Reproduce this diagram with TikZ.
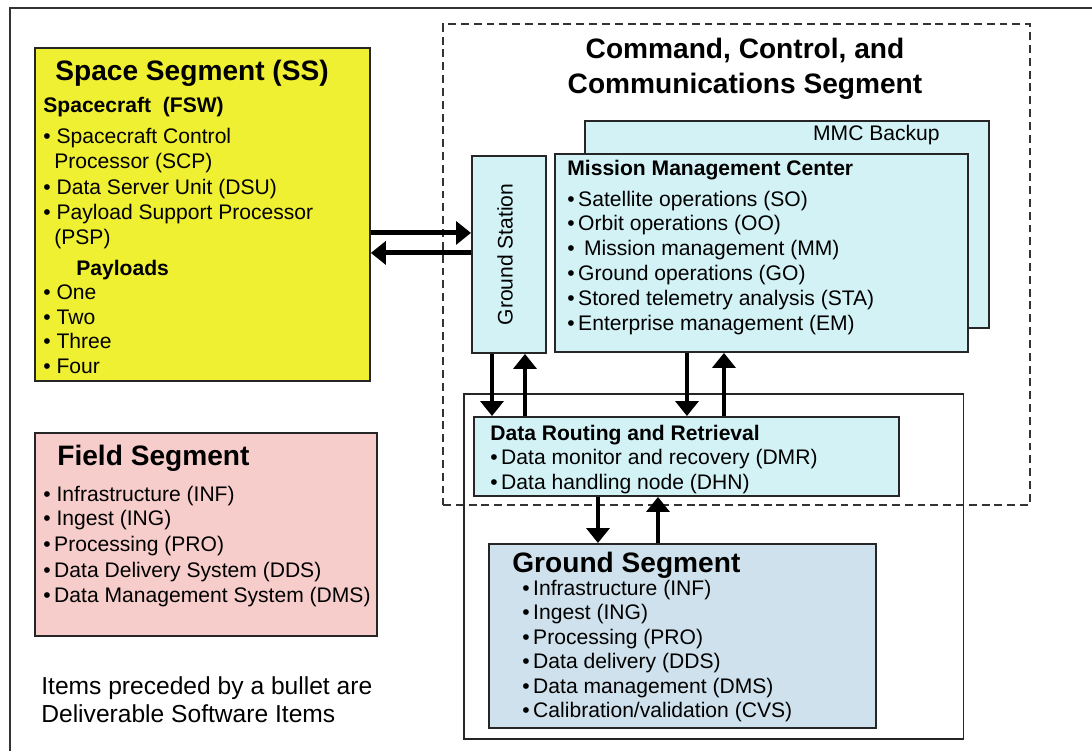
\documentclass[tikz,border=0pt]{standalone}
\usepackage{fontspec}
\setmainfont{Liberation Sans}
\usetikzlibrary{arrows.meta}
\definecolor{ssyellow}{HTML}{F0F032}
\definecolor{fspink}{HTML}{F6CDCB}
\definecolor{ccccyan}{HTML}{D3F2F6}
\definecolor{gsblue}{HTML}{CFE1EC}
\definecolor{framegray}{HTML}{333333}

\begin{document}
\begin{tikzpicture}[x=0.02cm, y=-0.02cm,
    box/.style={draw=black!85, line width=1.1pt, anchor=north west, inner sep=0},
    txt/.style={anchor=base west, inner sep=0, font=\fontsize{12}{14}\selectfont},
    hdr/.style={txt, font=\fontsize{12}{14}\selectfont\bfseries},
    ttl/.style={txt, font=\fontsize{16}{19}\selectfont\bfseries},
    arr/.style={line width=2.8pt, -{Triangle[length=8.5pt, width=13pt]}}]
\useasboundingbox (0,0) rectangle (1092,751);
\draw[framegray, line width=1.2pt] (10,751) -- (10,8) -- (1092,8);

\node[box, draw=black!80, dash pattern=on 4.5pt off 2.8pt, minimum width=11.74cm, minimum height=9.62cm] (ccc) at (442,23) {};
\node[ttl, anchor=base] (ccct1) at (745,58) {Command, Control, and};
\node[ttl, anchor=base] (ccct2) at (745,93) {Communications Segment};

\node[box, fill=ssyellow, minimum width=6.7cm, minimum height=6.66cm] (ss) at (34,47) {};
\node[ttl] (sst) at (55,80) {Space Segment (SS)};
\node[hdr] (fsw) at (43,112.5) {Spacecraft\ \ (FSW)};
\node[txt] (scp1) at (43,143.5) {• Spacecraft Control};
\node[txt] (scp2) at (54,168.5) {Processor (SCP)};
\node[txt] (dsu) at (43,194.5) {• Data Server Unit (DSU)};
\node[txt] (psp1) at (43,219.5) {• Payload Support Processor};
\node[txt] (psp2) at (54,244.5) {(PSP)};
\node[hdr] (pay) at (76,275.5) {Payloads};
\foreach \t [count=\i] in {One,Two,Three,Four}
    \node[txt] (pl\i) at (43,{299.5+24.7*(\i-1)}) {• \t};

\node[box, fill=fspink, minimum width=6.84cm, minimum height=4.06cm] (fs) at (34,432) {};
\node[ttl] (fst) at (57,465) {Field Segment};
\node[txt] (fs1) at (43,501.5) {• Infrastructure (INF)};
\node[txt] (fs2) at (43,525.5) {• Ingest (ING)};
\node[txt] (fs3) at (43,551.5) {•\,Processing (PRO)};
\node[txt] (fs4) at (43,577.5) {•\,Data Delivery System (DDS)};
\node[txt] (fs5) at (43,602.5) {•\,Data Management System (DMS)};

\node[txt, font=\fontsize{14}{17}\selectfont] (note1) at (41,694) {Items preceded by a bullet are};
\node[txt, font=\fontsize{14}{17}\selectfont] (note2) at (41,722) {Deliverable Software Items};

\node[box, fill=ccccyan, minimum width=8.08cm, minimum height=4.14cm] (bak) at (584,120) {};
\node[txt, anchor=base east] (bakt) at (940,140.5) {MMC Backup};
\node[box, fill=ccccyan, minimum width=8.26cm, minimum height=3.96cm] (mmc) at (554,153) {};
\node[hdr] (mmct) at (567,175.5) {Mission Management Center};
\foreach \t [count=\i] in {Satellite operations (SO),Orbit operations (OO),\ Mission management (MM),Ground operations (GO),Stored telemetry analysis (STA),Enterprise management (EM)}
    \node[txt] (mm\i) at (567,{206+24.9*(\i-1)}) {•\,\t};

\node[box, fill=ccccyan, minimum width=1.48cm, minimum height=3.94cm] (gst) at (471,155) {};
\node[rotate=90, inner sep=0, font=\fontsize{12}{14}\selectfont] (gstt) at ([xshift=-0.08cm]gst.center) {Ground Station};

\node[box, line width=0.9pt, minimum width=10cm, minimum height=6.9cm] (gsout) at (463,393) {};
\node[box, fill=ccccyan, minimum width=8.5cm, minimum height=1.58cm] (drr) at (473,416) {};
\node[hdr] (drrt) at (490,440) {Data Routing and Retrieval};
\node[txt] (drr1) at (490,464.5) {•\,Data monitor and recovery (DMR)};
\node[txt] (drr2) at (490,489.5) {•\,Data handling node (DHN)};

\node[box, fill=gsblue, minimum width=7.74cm, minimum height=3.68cm] (gseg) at (488,543) {};
\node[ttl] (gsegt) at (512,572) {Ground Segment};
\foreach \t [count=\i] in {Infrastructure (INF),Ingest (ING),Processing (PRO),Data delivery (DDS),Data management (DMS),Calibration/validation (CVS)}
    \node[txt] (gs\i) at (522,{595.5+24.4*(\i-1)}) {•\,\t};

\coordinate (sa) at ([yshift=-0.37cm]ss.east);
\coordinate (sb) at ([yshift=-0.77cm]ss.east);
\draw[arr] (sa) -- (sa -| gst.west);
\draw[arr] (sb -| gst.west) -- (sb);

\coordinate (a1) at ([xshift=0.42cm]gst.south west);
\coordinate (a2) at ([xshift=1.08cm]gst.south west);
\coordinate (a3) at ([xshift=2.66cm]mmc.south west);
\coordinate (a4) at ([xshift=3.40cm]mmc.south west);
\coordinate (a5) at ([xshift=2.50cm]drr.south west);
\coordinate (a6) at ([xshift=3.70cm]drr.south west);
\draw[arr] (a1) -- (a1 |- drr.north);
\draw[arr] (a2 |- drr.north) -- (a2);
\draw[arr] (a3) -- (a3 |- drr.north);
\draw[arr] (a4 |- drr.north) -- (a4);
\draw[arr] (a5) -- (a5 |- gseg.north);
\draw[arr] (a6 |- gseg.north) -- (a6);
\end{tikzpicture}
\end{document}
